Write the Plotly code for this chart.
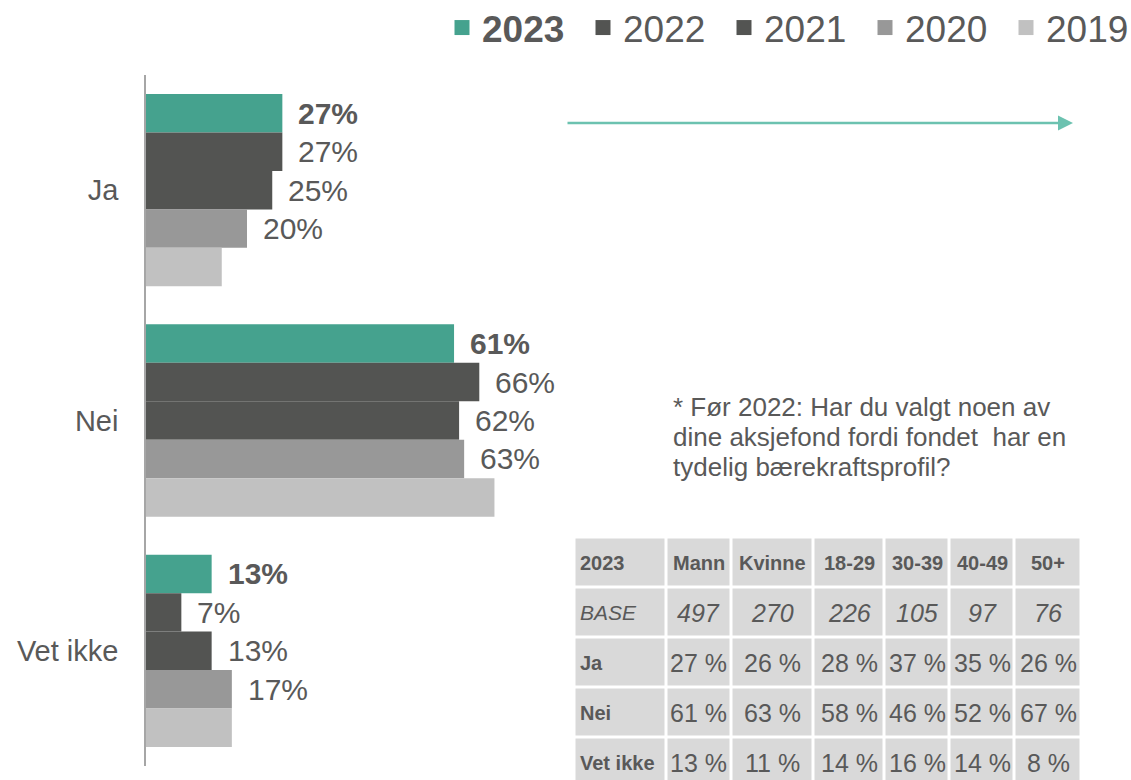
import plotly.graph_objects as go

# ---------------- data ----------------
categories = ["Ja", "Nei", "Vet ikke"]
years = ["2023", "2022", "2021", "2020", "2019"]
values_2023 = [27, 61, 13]
values_2022 = [27, 66, 7]
values_2021 = [25, 62, 13]
values_2020 = [20, 63, 17]
values_2019 = [15, 69, 17]
series = [values_2023, values_2022, values_2021, values_2020, values_2019]
labelled = [True, True, True, True, False]

table_header = ["2023", "Mann", "Kvinne", "18-29", "30-39", "40-49", "50+"]
table_row_labels = ["BASE", "Ja", "Nei", "Vet ikke"]
table_base = [497, 270, 226, 105, 97, 76]
table_ja = [27, 26, 28, 37, 35, 26]
table_nei = [61, 63, 58, 46, 52, 67]
table_vet_ikke = [13, 11, 14, 16, 14, 8]

note_lines = ["* Før 2022: Har du valgt noen av",
              "dine aksjefond fordi fondet\u00a0 har en",
              "tydelig bærekraftsprofil?"]

# ---------------- style / layout ----------------
W, H = 1131, 780
FONT = "Liberation Sans, Arial, sans-serif"
TXT = "#595959"
colors = ["#45a28e", "#535452", "#535452", "#989898", "#c1c1c1"]
BARGAP = 0.165
PX_PER_PCT = 5.05
X0, X1 = 146, 560          # main plot horizontal extent (px)
Y0, Y1 = 75, 766           # main plot vertical extent (px)

col_edges = [574.5, 666, 731.5, 813.5, 884.5, 949.5, 1014.5, 1081.5]
row_edges = [537.5, 587.5, 637.5, 687.5, 737.5, 787.5]

fig = go.Figure()

for name, vals, col in zip(years, series, colors):
    fig.add_trace(go.Bar(
        x=vals, y=categories, orientation="h", name=name, showlegend=False,
        marker=dict(color=col, line=dict(width=0)),
        hoverinfo="skip", xaxis="x", yaxis="y",
    ))
# legend entries (square swatches)
for name, col in zip(years, colors):
    fig.add_trace(go.Scatter(
        x=[None], y=[None], mode="markers", xaxis="x", yaxis="y",
        name=("<b>%s</b>" % name) if name == "2023" else name,
        marker=dict(symbol="square", size=15, color=col, line=dict(width=0)),
        hoverinfo="skip", showlegend=True,
    ))

annotations = []
n = len(series)
bw = (1 - BARGAP) / n
for i, (vals, lab) in enumerate(zip(series, labelled)):
    if not lab:
        continue
    for ci, v in enumerate(vals):
        off = -(1 - BARGAP) / 2 + bw * (i + 0.5)
        txt = "%d%%" % v
        if i == 0:
            txt = "<b>%s</b>" % txt
        annotations.append(dict(
            x=v, y=ci + off, xref="x", yref="y", text=txt, showarrow=False,
            xanchor="left", yanchor="middle", xshift=14,
            font=dict(family=FONT, size=30, color=TXT)))

# table as heatmap bricks
table_values = [table_base, table_ja, table_nei, table_vet_ikke]
z = [[0] * len(table_header) for _ in range(len(table_row_labels) + 1)]
fig.add_trace(go.Heatmap(
    x=col_edges, y=row_edges, z=z, xaxis="x2", yaxis="y2",
    colorscale=[[0, "#d9d9d9"], [1, "#d9d9d9"]], showscale=False,
    xgap=3, ygap=3, hoverinfo="skip", showlegend=False,
))
col_c = [(col_edges[k] + col_edges[k + 1]) / 2 for k in range(len(col_edges) - 1)]
row_c = [(row_edges[k] + row_edges[k + 1]) / 2 for k in range(len(row_edges) - 1)]

for k, h in enumerate(table_header):
    if k == 0:
        annotations.append(dict(x=col_edges[0] + 3, y=row_c[0], xref="x2", yref="y2",
                                text="<b>%s</b>" % h, showarrow=False, xanchor="left",
                                font=dict(family=FONT, size=20, color=TXT)))
    else:
        annotations.append(dict(x=col_c[k], y=row_c[0], xref="x2", yref="y2",
                                text="<b>%s</b>" % h, showarrow=False,
                                font=dict(family=FONT, size=20, color=TXT)))
for r, (lab, vals) in enumerate(zip(table_row_labels, table_values)):
    is_base = lab == "BASE"
    annotations.append(dict(x=col_edges[0] + 3, y=row_c[r + 1], xref="x2", yref="y2",
                            text=("<i>%s</i>" % lab) if is_base else ("<b>%s</b>" % lab),
                            showarrow=False, xanchor="left",
                            font=dict(family=FONT, size=21 if is_base else 20, color=TXT)))
    for k, v in enumerate(vals):
        t = ("<i>%d</i>" % v) if is_base else ("%d %%" % v)
        annotations.append(dict(x=col_c[k + 1], y=row_c[r + 1], xref="x2", yref="y2",
                                text=t, showarrow=False,
                                font=dict(family=FONT, size=25, color=TXT)))

# note (one annotation per line for tighter line spacing)
for li, line in enumerate(note_lines):
    annotations.append(dict(x=671, y=407 + 30 * li, xref="x2", yref="y2",
                            text=line, showarrow=False, xanchor="left", yanchor="middle",
                            align="left", font=dict(family=FONT, size=26, color=TXT)))
# arrow
annotations.append(dict(x=1073, y=123, ax=566, ay=123,
                        xref="x2", yref="y2", axref="x2", ayref="y2",
                        text="", showarrow=True, arrowhead=2, arrowsize=1.2,
                        arrowwidth=2.5, arrowcolor="#6cc2b0"))

fig.update_layout(
    width=W, height=H, autosize=False,
    margin=dict(l=0, r=0, t=0, b=0, pad=0, autoexpand=False),
    paper_bgcolor="white", plot_bgcolor="rgba(0,0,0,0)",
    font=dict(family=FONT, color=TXT),
    barmode="group", bargap=BARGAP, bargroupgap=0,
    xaxis=dict(domain=[X0 / W, X1 / W], range=[0, (X1 - X0) / PX_PER_PCT],
               visible=False, fixedrange=True),
    yaxis=dict(domain=[1 - Y1 / H, 1 - Y0 / H], type="category",
               categoryorder="array", categoryarray=categories,
               range=[len(categories) - 0.5, -0.5],
               showline=True, linecolor="#a6a6a6", linewidth=1.5,
               showgrid=False, zeroline=False, ticks="",
               ticklabelstandoff=20,
               tickfont=dict(family=FONT, size=29, color=TXT)),
    xaxis2=dict(domain=[0, 1], range=[0, W], visible=False, anchor="y2", fixedrange=True),
    yaxis2=dict(domain=[0, 1], range=[H, 0], visible=False, anchor="x2", fixedrange=True),
    showlegend=True,
    legend=dict(orientation="h", x=442 / W, xanchor="left", y=1 + 3 / H, yanchor="top",
                font=dict(family=FONT, size=37, color=TXT),
                bgcolor="rgba(0,0,0,0)", traceorder="normal", entrywidth=96),
    annotations=annotations,
)

fig.write_html("out.html", config={"displayModeBar": False},
               post_script="document.body.style.margin='0';document.body.style.overflow='hidden';")
